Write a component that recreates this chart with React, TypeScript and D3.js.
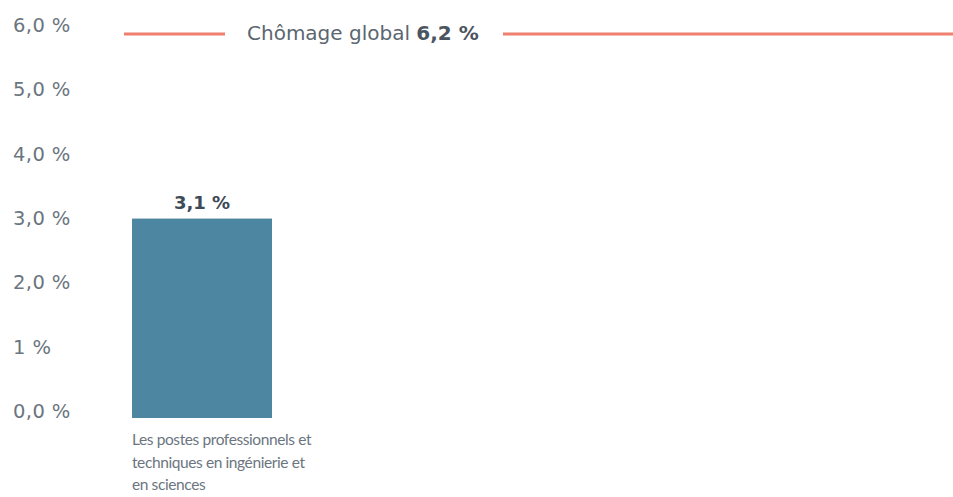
import React from "react";
import * as d3 from "d3";

const categories: string[] = ["Les postes professionnels et techniques en ingénierie et en sciences"];
const categoryLines: string[][] = [["Les postes professionnels et", "techniques en ingénierie et", "en sciences"]];
const values: number[] = [3.1];
const valueLabels: string[] = ["3,1 %"];
const tickValues: number[] = [0, 1, 2, 3, 4, 5, 6];
const tickLabels: string[] = ["0,0 %", "1 %", "2,0 %", "3,0 %", "4,0 %", "5,0 %", "6,0 %"];
const globalRate = 6.2;
const globalLabel = "Chômage global";
const globalValueLabel = "6,2 %";

const W = 953;
const H = 497;
const WIDE = "'DejaVu Sans', 'Noto Sans', sans-serif";
const NARROW = "Lato, 'Noto Sans', sans-serif";

export default function App() {
  const y = d3.scaleLinear().domain([0, 6]).range([418, 32]);
  const x = d3.scaleBand<string>().domain(categories).range([132, 272]).padding(0);
  const lineY = y(Math.min(globalRate, 6)) + 2;

  return (
    <svg width={W} height={H} style={{ position: "absolute", left: 0, top: 0 }} fontFamily={WIDE}>
      <rect width={W} height={H} fill="#fff" />
      {tickValues.map((t, i) => (
        <text key={t} x={13} y={y(t)} fontSize={19.5} letterSpacing={0.4} fill="#6b7580">
          {tickLabels[i]}
        </text>
      ))}
      {categories.map((c, i) => (
        <g key={c}>
          <rect x={x(c)} y={y(values[i])} width={x.bandwidth()} height={y(0) - y(values[i])} fill="#4d86a0" />
          <text x={(x(c) as number) + x.bandwidth() / 2} y={y(values[i]) - 10} textAnchor="middle" fontSize={18} fontWeight={700} fill="#3e4a55">
            {valueLabels[i]}
          </text>
          {categoryLines[i].map((ln, j) => (
            <text key={j} x={x(c)} y={445 + j * 22.5} fontSize={15.5} letterSpacing={-0.4} fill="#6b7580" fontFamily={NARROW}>
              {ln}
            </text>
          ))}
        </g>
      ))}
      <line x1={124} x2={225} y1={lineY} y2={lineY} stroke="#ef7f6f" strokeWidth={3} />
      <line x1={503} x2={W} y1={lineY} y2={lineY} stroke="#ef7f6f" strokeWidth={3} />
      <text x={247} y={lineY + 6} fontSize={20} fill="#5b6670">
        {globalLabel} <tspan fontWeight={700} fill="#4a5560">{globalValueLabel}</tspan>
      </text>
    </svg>
  );
}
